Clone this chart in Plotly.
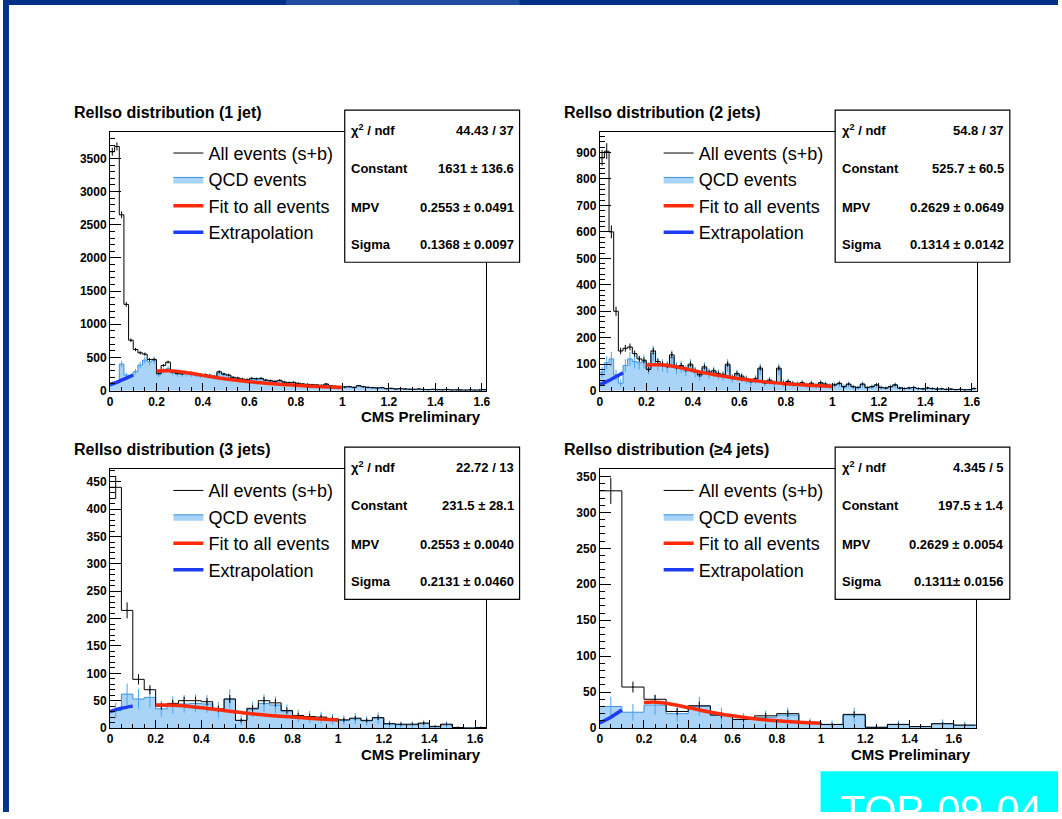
import numpy as np
import plotly.graph_objects as go

W, H = 1062, 819
FONT = "Liberation Sans, Arial, Helvetica, sans-serif"

# ---------------- data ----------------
titles = ["RelIso distribution (1 jet)", "RelIso distribution (2 jets)",
          "RelIso distribution (3 jets)", "RelIso distribution (\u22654 jets)"]
bin_width = [0.02, 0.02, 0.05, 0.1]

all_1 = [3600, 3680, 2650, 1300, 760, 620, 570, 550, 470, 470,
         260, 380, 430, 280, 260, 255, 270, 250, 245, 235,
         240, 230, 215, 285, 250, 235, 200, 190, 175, 165,
         185, 180, 185, 160, 150, 140, 155, 130, 120, 125,
         110, 100, 95, 90, 85, 80, 100, 75, 65, 60,
         55, 60, 50, 75, 60, 50, 45, 40, 45, 30,
         35, 25, 30, 25, 22, 20, 25, 18, 15, 20,
         15, 12, 18, 10, 12, 10, 8, 12, 8, 10, 15]
qcd_1 = [120, 130, 400, 235, 220, 285, 385, 460, 435, 460,
         240, 300, 330, 270, 250, 245, 255, 240, 235, 225,
         230, 220, 205, 265, 240, 225, 190, 180, 165, 160,
         175, 170, 175, 150, 145, 135, 145, 125, 115, 115,
         105, 95, 90, 85, 80, 75, 90, 70, 62, 57,
         52, 57, 47, 70, 57, 47, 42, 38, 42, 28,
         33, 23, 28, 23, 20, 18, 23, 16, 14, 18,
         14, 11, 16, 9, 11, 9, 7, 11, 7, 9, 13]

all_2 = [880, 905, 600, 300, 150, 160, 165, 140, 120, 115,
         80, 150, 110, 100, 95, 135, 90, 95, 80, 100,
         75, 60, 90, 70, 75, 65, 60, 100, 50, 65,
         55, 45, 35, 45, 85, 30, 40, 30, 85, 30,
         35, 28, 25, 30, 22, 28, 20, 30, 25, 20,
         22, 28, 15, 25, 15, 12, 25, 12, 15, 22,
         12, 10, 15, 22, 10, 8, 10, 12, 8, 7,
         10, 8, 6, 7, 5, 6, 4, 5, 3, 4, 8]
qcd_2 = [70, 105, 120, 60, 28, 95, 120, 110, 105, 110,
         85, 140, 100, 95, 90, 125, 85, 90, 75, 95,
         70, 55, 85, 65, 70, 60, 55, 95, 45, 60,
         50, 42, 32, 42, 80, 28, 37, 28, 80, 28,
         32, 26, 23, 28, 20, 26, 18, 28, 23, 18,
         20, 26, 14, 23, 14, 11, 23, 11, 14, 20,
         11, 9, 14, 20, 9, 7, 9, 11, 7, 6,
         9, 7, 5, 6, 4, 5, 3, 4, 3, 3, 7]

all_3 = [440, 215, 89, 70, 40, 45, 50, 50, 48, 35, 53, 14, 36, 50, 46, 32, 23,
         21, 20, 17, 15, 18, 14, 19, 8, 7, 7, 9, 3, 7, 1, 0, 1]
qcd_3 = [32, 62, 53, 56, 35, 42, 44, 45, 44, 33, 53, 14, 34, 45, 42, 30, 22,
         20, 19, 16, 14, 17, 13, 18, 7, 6, 6, 8, 2, 6, 1, 0, 1]

all_4 = [330, 57, 40, 23, 31, 18, 12, 17, 20, 8, 5, 19, 1, 5, 2, 6, 4]
qcd_4 = [30, 22, 32, 20, 30, 18, 12, 15, 18, 7, 5, 18, 1, 5, 2, 6, 4]

# fit curve (red) and extrapolation (blue)
fit_x_1 = [0.2, 0.25, 0.3, 0.35, 0.4, 0.45, 0.5, 0.6, 0.7, 0.8, 0.9, 1.0]
fit_y_1 = [295, 298, 285, 262, 230, 202, 177, 135, 103, 80, 62, 49]
ext_x_1 = [0, 0.025, 0.05, 0.075, 0.1]
ext_y_1 = [85, 120, 158, 196, 232]

fit_x_2 = [0.2, 0.25, 0.3, 0.35, 0.4, 0.45, 0.5, 0.6, 0.7, 0.8, 0.9, 1.0]
fit_y_2 = [97, 98, 94, 86, 76, 67, 59, 45, 34, 26, 20, 16]
ext_x_2 = [0, 0.025, 0.05, 0.075, 0.1]
ext_y_2 = [22, 32, 43, 55, 68]

fit_x_3 = [0.2, 0.25, 0.3, 0.4, 0.5, 0.6, 0.7, 0.8, 0.9, 1.0]
fit_y_3 = [42, 42, 41, 37, 32, 27, 23, 20, 17, 14.5]
ext_x_3 = [0, 0.05, 0.1]
ext_y_3 = [30, 36, 40]

fit_x_4 = [0.2, 0.25, 0.3, 0.4, 0.5, 0.6, 0.7, 0.8, 0.9, 1.0]
fit_y_4 = [35.5, 36, 34.5, 28.5, 22, 17, 13, 10, 8, 6.5]
ext_x_4 = [0, 0.05, 0.1]
ext_y_4 = [7, 15, 25]

qcd_weight = 6.0  # event weight of the QCD sample (sets its error bars)

stat_labels = ["\u03c7<sup>2</sup> / ndf", "Constant", "MPV", "Sigma"]
stats_1 = ["44.43 / 37", "1631 \u00b1 136.6", "0.2553 \u00b1 0.0491", "0.1368 \u00b1 0.0097"]
stats_2 = ["54.8 / 37", "525.7 \u00b1 60.5", "0.2629 \u00b1 0.0649", "0.1314 \u00b1 0.0142"]
stats_3 = ["22.72 / 13", "231.5 \u00b1 28.1", "0.2553 \u00b1 0.0040", "0.2131 \u00b1 0.0460"]
stats_4 = ["4.345 / 5", "197.5 \u00b1 1.4", "0.2629 \u00b1 0.0054", "0.1311\u00b1 0.0156"]

legend_names = ["All events (s+b)", "QCD events", "Fit to all events", "Extrapolation"]
x_max = [1.62, 1.62, 1.65, 1.7]
y_max = [3900, 978, 473, 360]
y_dtick = [500, 100, 50, 50]
y_minor = [100, 20, 10, 10]
footer_label = "CMS Preliminary"
badge_text = "TOP-09-04"

# ---------------- styling / layout ----------------
QCD_FILL = "#a9d3f7"
QCD_LINE = "#3a93dc"
QCD_ERR = "#4aa6ec"
RED = "#ff2a0a"
BLUE = "#1b3cf2"

def px(x):
    return x / W

def py(y):
    return 1 - y / H

frames = [(107.7, 486.7, 133, 394), (600.7, 980.0, 133, 394),
          (107.7, 486.7, 473.3, 734.3), (600.7, 979.3, 473.3, 734.3)]
legend_pos = [(166.5, 136.0), (660.0, 136.0), (166.5, 476.3), (660.0, 476.3)]
boxes = [(344, 520, 111, 264.5), (837.7, 1013.5, 111, 264.5),
         (344, 520, 451, 604.5), (837.7, 1013.5, 451, 604.5)]
title_pos = [(69.0, 113.3), (563.0, 113.3), (69.0, 453.3), (563.0, 453.3)]
cms_pos = [(483.5, 420.5), (976.0, 420.5), (483.0, 760.5), (976.0, 760.5)]

panels = [
    (all_1, qcd_1, fit_x_1, fit_y_1, ext_x_1, ext_y_1, stats_1),
    (all_2, qcd_2, fit_x_2, fit_y_2, ext_x_2, ext_y_2, stats_2),
    (all_3, qcd_3, fit_x_3, fit_y_3, ext_x_3, ext_y_3, stats_3),
    (all_4, qcd_4, fit_x_4, fit_y_4, ext_x_4, ext_y_4, stats_4),
]

fig = go.Figure()
annotations = []
shapes = []
layout_axes = {}

tickfont = dict(family=FONT, size=12, color="black", weight="bold")

for i, (allv, qcdv, fx, fy, ex, ey, stv) in enumerate(panels):
    k = i + 1
    xa = "x" if k == 1 else f"x{k}"
    ya = "y" if k == 1 else f"y{k}"
    lg = "legend" if k == 1 else f"legend{k}"
    bw = bin_width[i]
    allv = np.array(allv, dtype=float)
    qcdv = np.array(qcdv, dtype=float)
    n = len(allv)
    edges = np.arange(n + 1) * bw
    centers = (np.arange(n) + 0.5) * bw

    common = dict(xaxis=xa, yaxis=ya, legend=lg, hoverinfo="skip")

    # QCD filled histogram
    fig.add_trace(go.Scatter(x=edges, y=np.append(qcdv, qcdv[-1]), mode="lines",
                             line=dict(shape="hv", color=QCD_LINE, width=1),
                             fill="tozeroy", fillcolor=QCD_FILL,
                             name=legend_names[1], legendrank=2, **common))
    fig.add_trace(go.Scatter(x=centers, y=qcdv, mode="markers",
                             marker=dict(size=1, color=QCD_ERR),
                             error_y=dict(type="data", array=np.sqrt(qcdv * qcd_weight),
                                          color=QCD_ERR, thickness=1, width=0),
                             showlegend=False, **common))
    # All events histogram
    fig.add_trace(go.Scatter(x=edges, y=np.append(allv, allv[-1]), mode="lines",
                             line=dict(shape="hv", color="black", width=1),
                             name=legend_names[0], legendrank=1, **common))
    fig.add_trace(go.Scatter(x=centers, y=allv, mode="markers",
                             marker=dict(size=1, color="black"),
                             error_y=dict(type="data", array=np.sqrt(allv),
                                          color="black", thickness=1, width=0),
                             showlegend=False, **common))
    # fit and extrapolation
    fig.add_trace(go.Scatter(x=fx, y=fy, mode="lines",
                             line=dict(shape="spline", color=RED, width=3.5),
                             name=legend_names[2], legendrank=3, **common))
    fig.add_trace(go.Scatter(x=ex, y=ey, mode="lines",
                             line=dict(shape="spline", color=BLUE, width=3.5),
                             name=legend_names[3], legendrank=4, **common))

    x0, x1, y0, y1 = frames[i]
    xkey = "xaxis" if k == 1 else f"xaxis{k}"
    ykey = "yaxis" if k == 1 else f"yaxis{k}"
    layout_axes[xkey] = dict(
        domain=[px(x0), px(x1)], anchor=ya, range=[0, x_max[i]],
        tick0=0, dtick=0.2, ticks="inside", ticklen=8, tickwidth=1, tickcolor="black",
        minor=dict(dtick=0.05, ticks="inside", ticklen=4, tickcolor="black", showgrid=False),
        showline=True, linecolor="black", linewidth=1, mirror=True,
        showgrid=False, zeroline=False, tickfont=tickfont, fixedrange=True)
    layout_axes[ykey] = dict(
        domain=[py(y1), py(y0)], anchor=xa, range=[0, y_max[i]],
        tick0=0, dtick=y_dtick[i], ticks="inside", ticklen=11, tickwidth=1, tickcolor="black",
        minor=dict(dtick=y_minor[i], ticks="inside", ticklen=5.5, tickcolor="black", showgrid=False),
        showline=True, linecolor="black", linewidth=1, mirror=True,
        showgrid=False, zeroline=False, tickfont=tickfont, fixedrange=True)

    lx, ly = legend_pos[i]
    layout_axes[lg] = dict(x=px(lx), y=py(ly), xanchor="left", yanchor="top",
                           bgcolor="rgba(0,0,0,0)", borderwidth=0,
                           font=dict(family=FONT, size=18, color="black"),
                           itemwidth=30, tracegroupgap=0, traceorder="normal")

    # title
    tx, ty = title_pos[i]
    annotations.append(dict(x=px(tx), y=py(ty), xref="paper", yref="paper",
                            xanchor="left", yanchor="middle", showarrow=False,
                            text=f"<b>{titles[i]}</b>",
                            font=dict(family=FONT, size=16, color="black")))
    # CMS Preliminary
    cx, cy = cms_pos[i]
    annotations.append(dict(x=px(cx), y=py(cy), xref="paper", yref="paper",
                            xanchor="right", yanchor="middle", showarrow=False,
                            text=f"<b>{footer_label}</b>",
                            font=dict(family=FONT, size=15, color="black")))
    # stats box
    bx0, bx1, by0, by1 = boxes[i]
    shapes.append(dict(type="rect", xref="paper", yref="paper",
                       x0=px(bx0), x1=px(bx1), y0=py(by1), y1=py(by0),
                       line=dict(color="black", width=1.2), fillcolor="white", layer="above"))
    row_off = [20.5, 59, 98, 136]
    for r in range(4):
        annotations.append(dict(x=px(bx0 + 4.5), y=py(by0 + row_off[r]), xref="paper", yref="paper",
                                xanchor="left", yanchor="middle", showarrow=False,
                                text=f"<b>{stat_labels[r]}</b>",
                                font=dict(family=FONT, size=13, color="black")))
        annotations.append(dict(x=px(bx1 - 3.5), y=py(by0 + row_off[r]), xref="paper", yref="paper",
                                xanchor="right", yanchor="middle", showarrow=False,
                                text=f"<b>{stv[r]}</b>",
                                font=dict(family=FONT, size=13, color="black")))

# slide decoration: blue strips and cyan badge
shapes.append(dict(type="rect", xref="paper", yref="paper", x0=0, x1=1, y0=py(5), y1=1,
                   line=dict(width=0), fillcolor="#003086", layer="above"))
shapes.append(dict(type="rect", xref="paper", yref="paper", x0=px(285), x1=px(520), y0=py(5), y1=1,
                   line=dict(width=0), fillcolor="#1f4c9f", layer="above"))
shapes.append(dict(type="rect", xref="paper", yref="paper", x0=0, x1=px(6), y0=0, y1=1,
                   line=dict(width=0), fillcolor="#00358c", layer="above"))
shapes.append(dict(type="rect", xref="paper", yref="paper", x0=px(823), x1=1, y0=0, y1=py(778),
                   line=dict(width=0), fillcolor="#00ffff", layer="above"))
annotations.append(dict(x=px(841), y=py(817), xref="paper", yref="paper",
                        xanchor="left", yanchor="middle", showarrow=False,
                        text=badge_text, font=dict(family=FONT, size=41, color="white")))

fig.update_layout(width=W, height=H, margin=dict(l=0, r=0, t=0, b=0),
                  paper_bgcolor="white", plot_bgcolor="white",
                  showlegend=True, annotations=annotations, shapes=shapes,
                  **layout_axes)

fig.write_html("out.html")
